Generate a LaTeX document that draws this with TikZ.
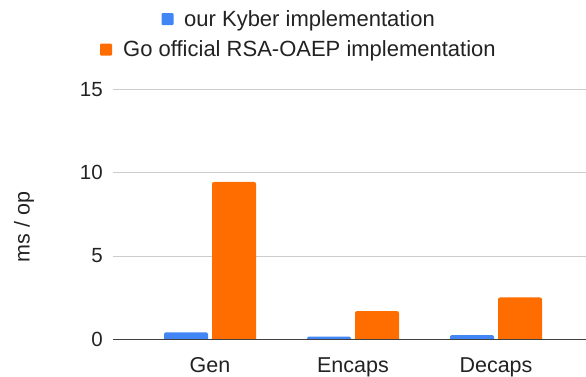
\documentclass[tikz,border=0pt]{standalone}
\usepackage{fontspec}
\setmainfont{Liberation Sans}
\definecolor{kyber}{HTML}{4285F4}
\definecolor{rsa}{HTML}{FF6D01}
\definecolor{ink}{HTML}{222222}
\begin{document}
\begin{tikzpicture}[x=1pt,y=-1pt,
  every node/.style={inner sep=0pt, text=ink},
  gridline/.style={draw=black!20, line width=0.8pt},
  axisline/.style={draw=black!75, line width=1pt},
  ticklabel/.style={anchor=east, font=\fontsize{20.5}{24}\selectfont},
  catlabel/.style={anchor=base, font=\fontsize{21.5}{26}\selectfont},
  legendtext/.style={anchor=base west, font=\fontsize{22}{26}\selectfont}]
\useasboundingbox (0,0) rectangle (586,376);
\def\ys{16.62}

% horizontal grid and value labels
\foreach \v in {5,10,15}{
  \draw[gridline] (113,{339-\ys*\v}) -- (586,{339-\ys*\v});
  \node[ticklabel] (tick\v) at (103,{339-\ys*\v}) {\v};
}
\node[ticklabel] (tick0) at (103,339) {0};

% bars: group centre / Kyber value / RSA-OAEP value
\foreach \c/\k/\r in {210/0.4/9.45, 353/0.14/1.68, 496/0.24/2.5}{
  \fill[kyber] (\c-46,339) {[rounded corners=1.5pt] -- (\c-46,{339-\ys*\k}) -- (\c-2,{339-\ys*\k})} -- (\c-2,339) -- cycle;
  \fill[rsa] (\c+2,339) {[rounded corners=2pt] -- (\c+2,{339-\ys*\r}) -- (\c+46,{339-\ys*\r})} -- (\c+46,339) -- cycle;
}

% baseline
\draw[axisline] (113,339) -- (586,339);

% category labels
\node[catlabel] (gen) at (210,372) {Gen};
\node[catlabel] (enc) at (353,372) {Encaps};
\node[catlabel] (dec) at (496,372) {Decaps};

% axis title
\node[rotate=90, font=\fontsize{21.5}{26}\selectfont] (ytitle) at (24,227) {ms / op};

% legend
\fill[kyber, rounded corners=1pt] (161.5,13) rectangle (173.5,25);
\node[legendtext] (lkyber) at (184,26.5) {our Kyber implementation};
\fill[rsa, rounded corners=1pt] (100,43.5) rectangle (112,55.5);
\node[legendtext] (lrsa) at (123,56.5) {Go official RSA-OAEP implementation};
\end{tikzpicture}
\end{document}
